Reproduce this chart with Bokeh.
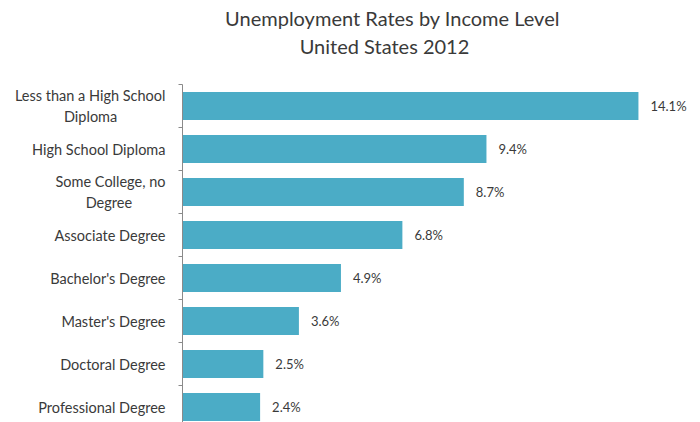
from bokeh.plotting import figure
from bokeh.layouts import column
from bokeh.models import Range1d, FixedTicker, ColumnDataSource
from bokeh.core.properties import value
from bokeh.embed import file_html
from bokeh.resources import INLINE

categories = ["Less than a High School Diploma", "High School Diploma",
              "Some College, no Degree", "Associate Degree", "Bachelor's Degree",
              "Master's Degree", "Doctoral Degree", "Professional Degree"]
NB = "\u00a0"
tick_labels = ["Less than a High School\nDiploma" + NB * 13, "High School Diploma",
               "Some College, no\nDegree" + NB * 9, "Associate Degree", "Bachelor's Degree",
               "Master's Degree", "Doctoral Degree", "Professional Degree"]
rates = [14.1, 9.4, 8.7, 6.8, 4.9, 3.6, 2.5, 2.4]
value_labels = ["14.1%", "9.4%", "8.7%", "6.8%", "4.9%", "3.6%", "2.5%", "2.4%"]
title_lines = ["Unemployment Rates by Income Level", "United States 2012"]

FONT = "Lato"
TEXT = "#3a3a3a"

# ---- title strip (pixel coordinates; its frame is aligned with the chart frame 182..690) ----
t = figure(width=700, height=84, output_backend="svg", toolbar_location=None,
           x_range=Range1d(182, 690), y_range=Range1d(84, 0),
           x_axis_location=None, y_axis_location=None,
           min_border=0, min_border_left=182, min_border_right=10)
t.outline_line_color = None
t.grid.visible = False
t.text(x=[392, 384], y=[17, 45], text=title_lines, text_align="center",
       text_baseline="middle", text_font=value(FONT), text_font_size="20px",
       text_color=TEXT)

# ---- bar chart ----
pos = list(range(len(categories)))
src = ColumnDataSource(dict(y=pos, rate=rates, lab=value_labels, cat=categories))

p = figure(width=700, height=338, output_backend="svg", toolbar_location=None,
           x_range=Range1d(0, 15.71), y_range=Range1d(-0.5 + 338 / 43, -0.5),
           x_axis_location=None, min_border_left=182, min_border_right=10,
           min_border_bottom=0, min_border_top=0)
p.outline_line_color = None
p.grid.visible = False

p.hbar(y="y", right="rate", left=0, height=0.65, source=src,
       fill_color="#4BACC6", line_color=None)
p.text(x="rate", y="y", text="lab", source=src, x_offset=12,
       text_align="left", text_baseline="middle", text_font=value(FONT),
       text_font_size="13px", text_color=TEXT)

ax = p.yaxis[0]
ax.ticker = FixedTicker(ticks=pos, minor_ticks=[i - 0.5 for i in range(len(categories) + 1)])
ax.major_label_overrides = {i: lbl for i, lbl in zip(pos, tick_labels)}
ax.major_tick_out = 0
ax.major_tick_in = 0
ax.minor_tick_out = 4
ax.minor_tick_in = 0
ax.minor_tick_line_color = "#8a8a8a"
ax.axis_line_color = "#8a8a8a"
ax.major_label_standoff = 13
ax.major_label_text_font = FONT
ax.major_label_text_font_size = "14.5px"
ax.major_label_text_color = TEXT

layout = column(t, p, spacing=0)
open("out.html", "w").write(file_html(layout, INLINE))
